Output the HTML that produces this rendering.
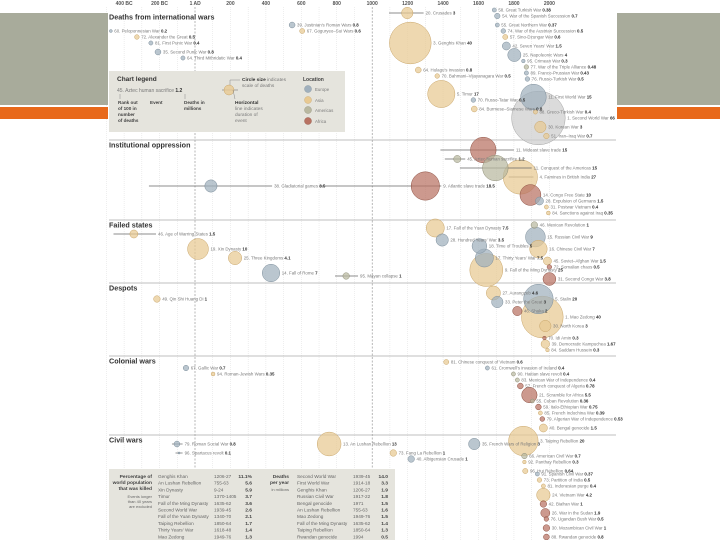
<!DOCTYPE html>
<html><head><meta charset="utf-8">
<style>
html,body{margin:0;padding:0;background:#fff;}
svg{display:block;font-family:"Liberation Sans",sans-serif;}
.lbl{font-size:4.4px;fill:#7a7a7a;}
.hdr{font-size:7.2px;font-weight:bold;fill:#333;}
.ax{font-size:5px;fill:#555;font-weight:bold;}
.tb{font-size:4.7px;fill:#666;}
.tbb{font-size:4.9px;fill:#444;font-weight:bold;}
</style></head>
<body>
<svg id="chart" width="720" height="540" viewBox="0 0 720 540">
  <g id="grid"></g>
  <g id="axis"></g>
  <g id="sections"></g>
  <g id="marks"></g>

  <g>
    <rect x="109" y="71" width="236" height="61" fill="#e5e4dd"/>
    <text x="117" y="81" class="hdr" style="font-size:6.5px">Chart legend</text>
    <text x="117" y="92" class="lbl" style="font-size:5px">45. Aztec human sacrifice <tspan font-weight="bold" fill="#333">1.2</tspan></text>
    <line x1="120" y1="94" x2="120" y2="99" stroke="#888" stroke-width="0.5"/>
    <line x1="185" y1="94" x2="185" y2="99" stroke="#888" stroke-width="0.5"/>
    <text class="tbb" style="font-size:4.6px"><tspan x="118" y="104">Rank out</tspan><tspan x="118" y="110">of 100 in</tspan><tspan x="118" y="116">number</tspan><tspan x="118" y="122">of deaths</tspan></text>
    <text x="150" y="104" class="tbb" style="font-size:4.6px">Event</text>
    <text class="tbb" style="font-size:4.6px"><tspan x="184" y="104">Deaths in</tspan><tspan x="184" y="110">millions</tspan></text>
    <line x1="222" y1="90" x2="238" y2="90" stroke="#777" stroke-width="0.6"/>
    <circle cx="229" cy="90" r="5" fill="#e8c992" fill-opacity="0.8" stroke="#c9a66a" stroke-width="0.5"/>
    <polyline points="230,85 230,80 240,80" fill="none" stroke="#888" stroke-width="0.5"/>
    <polyline points="233,90 235,99" fill="none" stroke="#888" stroke-width="0.5"/>
    <text class="lbl" style="font-size:4.8px"><tspan x="242" y="81"><tspan font-weight="bold" fill="#333">Circle size</tspan> indicates</tspan><tspan x="242" y="87">scale of deaths</tspan></text>
    <text class="lbl" style="font-size:4.8px"><tspan x="235" y="104" font-weight="bold" fill="#333">Horizontal</tspan><tspan x="235" y="110">line indicates</tspan><tspan x="235" y="116">duration of</tspan><tspan x="235" y="122">event</tspan></text>
    <text x="303" y="81" class="tbb" style="font-size:5px">Location</text>
    <circle cx="308" cy="89" r="3.5" fill="#a0b0bd" stroke="#7d8e9b" stroke-width="0.4"/><text x="315" y="91" class="lbl">Europe</text>
    <circle cx="308" cy="100" r="3.5" fill="#e8c992" stroke="#c9a66a" stroke-width="0.4"/><text x="315" y="102" class="lbl">Asia</text>
    <circle cx="308" cy="110" r="3.5" fill="#b9b8a0" stroke="#8f8e78" stroke-width="0.4"/><text x="315" y="112" class="lbl">Americas</text>
    <circle cx="308" cy="121" r="3.5" fill="#b87262" stroke="#8c4f41" stroke-width="0.4"/><text x="315" y="123" class="lbl">Africa</text>
  </g>

  <g>
    <rect x="109" y="469" width="286" height="71" fill="#e5e4dd"/>
    <text class="tbb" text-anchor="end"><tspan x="152" y="478">Percentage of</tspan><tspan x="152" y="484">world population</tspan><tspan x="152" y="490">that was killed</tspan></text>
    <text class="tb" text-anchor="end" style="font-size:4px"><tspan x="152" y="498">Events longer</tspan><tspan x="152" y="503">than 40 years</tspan><tspan x="152" y="508">are excluded</tspan></text>
    <text class="tbb" text-anchor="end"><tspan x="289" y="478">Deaths</tspan><tspan x="289" y="484">per year</tspan></text>
    <text x="289" y="491" class="tb" text-anchor="end" style="font-size:4px">in millions</text>
    <g id="tables"></g>
  </g>

  <g>
    <rect x="0" y="13" width="108" height="92" fill="#a8ab9b"/>
    <rect x="0" y="107" width="108" height="12" fill="#e8691b"/>
    <rect x="617" y="13" width="103" height="92" fill="#a8ab9b"/>
    <rect x="617" y="107" width="103" height="12" fill="#e8691b"/>
  </g>
</svg>
<script>
// ---- data ----
const names = [
"60. Peloponnesian War","72. Alexander the Great","81. First Punic War","35. Second Punic War","64. Third Mithridatic War",
"39. Justinian's Roman Wars","67. Goguryeo–Sui Wars","20. Crusades","3. Genghis Khan","64. Hulagu's invasion",
"70. Bahmani–Vijayanagara War","5. Timur","70. Russo-Tatar War","84. Burmese–Siamese Wars","58. Great Turkish War",
"54. War of the Spanish Succession","55. Great Northern War","74. War of the Austrian Succession","57. Sino-Dzungar War","42. Seven Years' War",
"25. Napoleonic Wars","95. Crimean War","77. War of the Triple Alliance","89. Franco-Prussian War","76. Russo-Turkish War",
"11. First World War","88. Greco-Turkish War","1. Second World War","30. Korean War","51. Iran–Iraq War",
"38. Gladiatorial games","9. Atlantic slave trade","11. Mideast slave trade","45. Aztec human sacrifice","11. Conquest of the Americas",
"4. Famines in British India","14. Congo Free State","28. Expulsion of Germans","31. Postwar Vietnam","84. Sanctions against Iraq",
"46. Age of Warring States","19. Xin Dynasty","25. Three Kingdoms","14. Fall of Rome","95. Mayan collapse",
"17. Fall of the Yuan Dynasty","28. Hundred Years' War","18. Time of Troubles","17. Thirty Years' War","9. Fall of the Ming Dynasty",
"46. Mexican Revolution","15. Russian Civil War","16. Chinese Civil War","45. Soviet–Afghan War","72. Somalian chaos","31. Second Congo War",
"49. Qin Shi Huang Di","27. Aurangzeb","33. Peter the Great","46. Shaka","5. Stalin","1. Mao Zedong","30. North Korea","70. Idi Amin","39. Democratic Kampuchea","84. Saddam Hussein",
"67. Gallic War","94. Roman-Jewish Wars","81. Chinese conquest of Vietnam","61. Cromwell's invasion of Ireland","90. Haitian slave revolt",
"83. Mexican War of Independence","57. French conquest of Algeria","21. Scramble for Africa","55. Cuban Revolution","59. Italo-Ethiopian War",
"85. French Indochina War","79. Algerian War of Independence","40. Bengal genocide",
"79. Roman Social War","96. Spartacus revolt","13. An Lushan Rebellion","73. Fang La Rebellion","40. Albigensian Crusade",
"35. French Wars of Religion","3. Taiping Rebellion","66. American Civil War","92. Panthay Rebellion","96. Hui Rebellion",
"91. Spanish Civil War","73. Partition of India","81. Indonesian purge","24. Vietnam War","42. Biafran War",
"26. War in the Sudan","76. Ugandan Bush War","30. Mozambican Civil War","88. Rwandan genocide"
];
const years = [
-475,-328,-249,-209,-68, 548,605,1198,1215,1260, 1367,1390,1571,1576,1689, 1706,1706,1740,1751,1757,
1802,1853,1870,1870,1876, 1910,1921,1938,1949,1983,
90,1300,1627,1480,1695, 1836,1893,1944,1983,1994,
-345,17,226,429,853, 1356,1395,1605,1633,1644, 1915,1921,1938,1989,2000,2000,
-215,1684,1706,1819,1938,1960,1977,1972,1977,1989,
-51,102,1418,1650,1797, 1819,1836,1887,1904,1938, 1949,1960,1966,
-102,-90,757,1119,1220, 1576,1853,1859,1859,1864, 1932,1944,1966,1966,1966, 1977,1983,1983,1983
];
const deaths = [
0.2,0.5,0.4,0.8,0.4, 0.8,0.6,3,40,0.8, 0.5,17,0.5,0.8,0.38, 0.7,0.37,0.5,0.6,1.5,
4,0.3,0.48,0.43,0.5, 15,0.4,66,3,0.7,
3.5,18.5,15,1.2,15, 27,10,1.5,0.4,0.35,
1.5,10,4.1,7,1, 7.5,3.5,5,7.5,25, 1,9,7,1.5,0.5,3.8,
1,4.6,3,2,20,40,3,0.3,1.67,0.3,
0.7,0.35,0.6,0.4,0.4, 0.4,0.78,5.5,0.36,0.75, 0.39,0.53,1.5,
0.8,0.1,13,1,1, 3,20,0.7,0.3,0.64, 0.37,0.5,0.4,4.2,1, 1.9,0.5,1,0.8
];
const regions = [
"E","A","E","E","E", "E","A","A","A","A", "A","A","E","A","E", "E","E","E","A","E",
"E","E","Am","E","E", "E","A","M","A","A",
"E","R","R","Am","Am", "A","R","E","A","A",
"A","A","A","E","Am", "A","E","E","E","A", "Am","E","A","A","R","R",
"A","A","E","R","E","A","A","R","A","A",
"E","A","A","E","Am", "Am","R","R","Am","R", "A","R","A",
"E","E","A","A","E", "E","A","Am","A","A", "E","A","A","A","R", "R","R","R","R"
];
const sections = [
0,0,0,0,0, 0,0,0,0,0, 0,0,0,0,0, 0,0,0,0,0, 0,0,0,0,0, 0,0,0,0,0,
1,1,1,1,1, 1,1,1,1,1,
2,2,2,2,2, 2,2,2,2,2, 2,2,2,2,2,2,
3,3,3,3,3,3,3,3,3,3,
4,4,4,4,4, 4,4,4,4,4, 4,4,4,
5,5,5,5,5, 5,5,5,5,5, 5,5,5,5,5, 5,5,5,5
];
const rows = [
7,9,11,14,16, 5,7,1,11,20, 22,28,30,33,0, 2,5,7,9,12, 15,17,19,21,23, 29,34,36,39,42,
12,12,0,3,6, 9,15,17,19,21,
3,8,11,16,17, 1,5,7,11,15, 0,4,8,12,14,18,
3,1,4,7,3,9,12,16,18,20,
2,4,0,2,4, 6,8,11,13,15, 17,19,22,
1,4,1,4,6, 1,0,5,7,10, 11,13,15,18,21, 24,26,29,32
];
const spanStart = {7:1095, 30:-260, 31:700, 32:1385, 33:1410, 34:1495, 35:1770, 40:-460, 44:790, 79:-130, 80:-110};
const spanEnd   = {7:1290, 30:435, 31:1390, 32:1800, 33:1525, 34:1900, 35:1910, 40:-220, 44:920, 79:-70, 80:-70};
const sectionTitles = ["Deaths from international wars","Institutional oppression","Failed states","Despots","Colonial wars","Civil wars"];
const axisYears = [-400,-200,1,200,400,600,800,1000,1200,1400,1600,1800,2000];
const axisLabels = ["400 BC","200 BC","1 AD","200","400","600","800","1000","1200","1400","1600","1800","2000"];
const tablePctNames = ["Genghis Khan","An Lushan Rebellion","Xin Dynasty","Timur","Fall of the Ming Dynasty","Second World War","Fall of the Yuan Dynasty","Taiping Rebellion","Thirty Years' War","Mao Zedong"];
const tablePctDates = ["1206-27","755-63","9-24","1370-1405","1635-62","1939-45","1340-70","1850-64","1618-48","1949-76"];
const tablePctValues = ["11.1%","5.6","5.9","3.7","3.6","2.6","2.1","1.7","1.4","1.3"];
const tableRateNames = ["Second World War","First World War","Genghis Khan","Russian Civil War","Bengal genocide","An Lushan Rebellion","Mao Zedong","Fall of the Ming Dynasty","Taiping Rebellion","Rwandan genocide"];
const tableRateDates = ["1939-45","1914-18","1206-27","1917-22","1971","755-63","1949-76","1635-62","1850-64","1994"];
const tableRateValues = ["14.0","3.3","1.9","1.8","1.5","1.6","1.5","1.4","1.3","0.5"];

// ---- scales ----
const NS="http://www.w3.org/2000/svg";
const sectionBase=[10,150,225,290,362,441];
const sectionLineY=[null,140,220,283,356,435];
function xScale(y){return 195+y*0.1772;}
function yPos(sec,row){return sectionBase[sec]+row*3;}
function rScale(d){return 3.3*Math.sqrt(d);}
const fills={E:"#a0b0bd",A:"#e8c992",Am:"#b9b8a0",R:"#b87262",M:"#cdcdcd"};
const strokes={E:"#7d8e9b",A:"#c9a66a",Am:"#8f8e78",R:"#8c4f41",M:"#a5a5a5"};
function mk(tag,attrs,parent){const e=document.createElementNS(NS,tag);for(const k in attrs)e.setAttribute(k,attrs[k]);parent.appendChild(e);return e;}

const grid=document.getElementById('grid');
for(let y=-500;y<=2000;y+=100){
  const major=(y===0||y===1000);
  const l=mk('line',{x1:xScale(y),x2:xScale(y),y1:7,y2:540,stroke:major?"#888":"#dcdcdc","stroke-width":major?0.6:0.5,"stroke-dasharray":major?"2,1.5":"1,1"},grid);
  
  
}
const axis=document.getElementById('axis');
axisYears.forEach((y,i)=>{
  const t=mk('text',{x:xScale(y),y:5,class:'ax','text-anchor':'middle'},axis);
  t.textContent=axisLabels[i];
  
  
});
const secG=document.getElementById('sections');
sectionTitles.forEach((s,i)=>{
  if(sectionLineY[i]!==null){
    const l=mk('line',{x1:109,x2:616,y1:sectionLineY[i],y2:sectionLineY[i],stroke:"#aaa","stroke-width":0.8},secG);
    
    
  }
  const t=mk('text',{x:109,y:(sectionLineY[i]||12)+7.5,class:'hdr'},secG);
  t.textContent=s;
  
  
});
const marks=document.getElementById('marks');
const order=names.map((_,i)=>i).sort((a,b)=>deaths[b]-deaths[a]);
order.forEach(i=>{
  const cx=xScale(years[i]), cy=yPos(sections[i],rows[i]), r=rScale(deaths[i]);
  if(spanStart[i]!==undefined){
    const l=mk('line',{x1:xScale(spanStart[i]),x2:xScale(spanEnd[i]),y1:cy,y2:cy,stroke:"#666","stroke-width":0.7},marks);
    
    
  }
  const c=mk('circle',{cx:cx,cy:cy,r:r,fill:fills[regions[i]],"fill-opacity":0.72,stroke:strokes[regions[i]],"stroke-width":0.5},marks);
  
  
});
names.forEach((n,i)=>{
  const cx=xScale(years[i]), cy=yPos(sections[i],rows[i]), r=rScale(deaths[i]);
  let lx=cx+r+2;
  if(spanEnd[i]!==undefined) lx=Math.max(lx,xScale(spanEnd[i])+2);
  const t=mk('text',{x:lx,y:cy+1.6,class:'lbl'},marks);
  t.textContent=n+" ";
  const b=mk('tspan',{"font-weight":"bold",fill:"#333"},t);
  b.textContent=String(deaths[i]);
  
  
});
const tables=document.getElementById('tables');
function row(x,y,txt,cls,anchor){const t=mk('text',{x:x,y:y,class:cls},tables);if(anchor)t.setAttribute('text-anchor',anchor);t.textContent=txt;}
tablePctNames.forEach((n,i)=>{const y=478+i*6.7;row(158,y,n,'tb');row(214,y,tablePctDates[i],'tb');row(252,y,tablePctValues[i],'tbb','end');});
tableRateNames.forEach((n,i)=>{const y=478+i*6.7;row(297,y,n,'tb');row(353,y,tableRateDates[i],'tb');row(388,y,tableRateValues[i],'tbb','end');});
</script>
</body></html>
